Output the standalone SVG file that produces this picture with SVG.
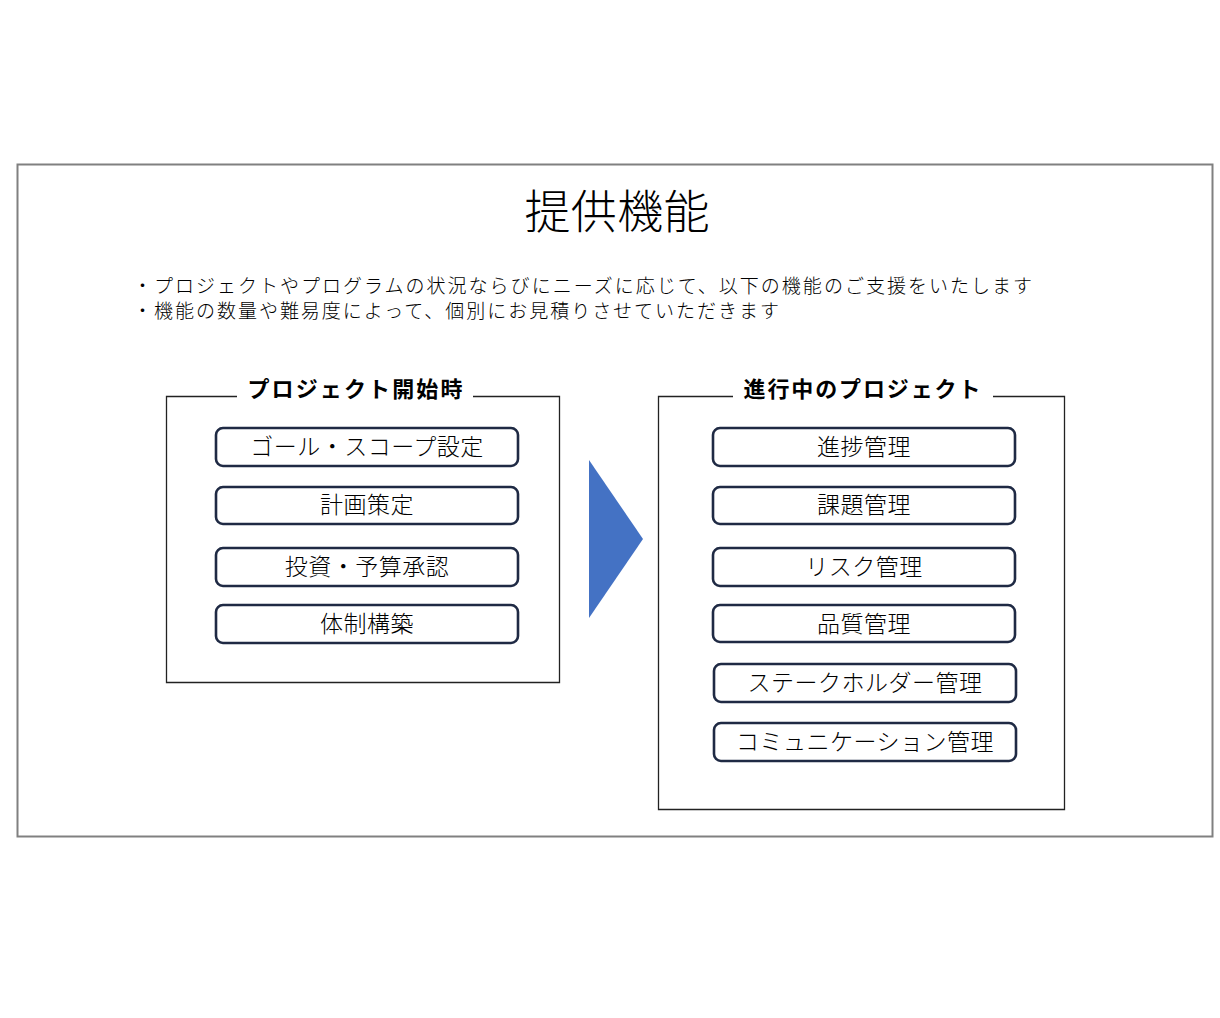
<svg xmlns="http://www.w3.org/2000/svg" width="1220" height="1018" viewBox="0 0 1220 1018">
<style>
text{font-family:"Noto Sans CJK JP","Noto Sans",sans-serif;fill:#000}
.item rect{fill:#fff;stroke:#1f2a44;stroke-width:2.6}
.item text{font-size:23px;text-anchor:middle;font-weight:300;letter-spacing:0.5px}
.grp{fill:none;stroke:#222;stroke-width:1.3}
.gt{font-size:22px;font-weight:bold;text-anchor:middle}
.bul{font-size:19px;font-weight:300}
</style>
<rect width="1220" height="1018" fill="#fff"/>
<g id="frame"><rect x="17.5" y="164.5" width="1195" height="672" fill="none" stroke="#808080" stroke-width="2"/></g>
<g id="title"><text x="617" y="228" font-size="46" font-weight="300" text-anchor="middle" textLength="185" lengthAdjust="spacing">提供機能</text></g>
<g id="bullets">
<text class="bul" x="133" y="293" textLength="899" lengthAdjust="spacing">・プロジェクトやプログラムの状況ならびにニーズに応じて、以下の機能のご支援をいたします</text>
<text class="bul" x="133" y="318" textLength="646" lengthAdjust="spacing">・機能の数量や難易度によって、個別にお見積りさせていただきます</text>
</g>
<g id="start-group">
<path class="grp" d="M237 396.5 H166.5 V682.5 H559.5 V396.5 H473"/>
<text class="gt" x="355" y="397" textLength="215" lengthAdjust="spacing">プロジェクト開始時</text>
</g>
<g id="n-goal" class="item"><rect x="216" y="428" width="302" height="38" rx="7"/><text x="367" y="455">ゴール・スコープ設定</text></g>
<g id="n-plan" class="item"><rect x="216" y="487" width="302" height="37" rx="7"/><text x="367" y="513">計画策定</text></g>
<g id="n-invest" class="item"><rect x="216" y="548" width="302" height="38" rx="7"/><text x="367" y="575">投資・予算承認</text></g>
<g id="n-org" class="item"><rect x="216" y="605" width="302" height="38" rx="7"/><text x="367" y="632">体制構築</text></g>
<g id="connectors"><polygon points="589,460 643,539 589,618" fill="#4472c4"/></g>
<g id="ongoing-group">
<path class="grp" d="M733 396.5 H658.5 V809.5 H1064.5 V396.5 H993"/>
<text class="gt" x="862" y="397" textLength="237" lengthAdjust="spacing">進行中のプロジェクト</text>
</g>
<g id="n-progress" class="item"><rect x="713" y="428" width="302" height="38" rx="7"/><text x="864" y="455">進捗管理</text></g>
<g id="n-issue" class="item"><rect x="713" y="487" width="302" height="37" rx="7"/><text x="864" y="513">課題管理</text></g>
<g id="n-risk" class="item"><rect x="713" y="548" width="302" height="38" rx="7"/><text x="864" y="575">リスク管理</text></g>
<g id="n-quality" class="item"><rect x="713" y="605" width="302" height="37" rx="7"/><text x="864" y="632">品質管理</text></g>
<g id="n-stake" class="item"><rect x="714" y="664" width="302" height="38" rx="7"/><text x="865" y="691">ステークホルダー管理</text></g>
<g id="n-comm" class="item"><rect x="714" y="723" width="302" height="38" rx="7"/><text x="865" y="750">コミュニケーション管理</text></g>
</svg>
